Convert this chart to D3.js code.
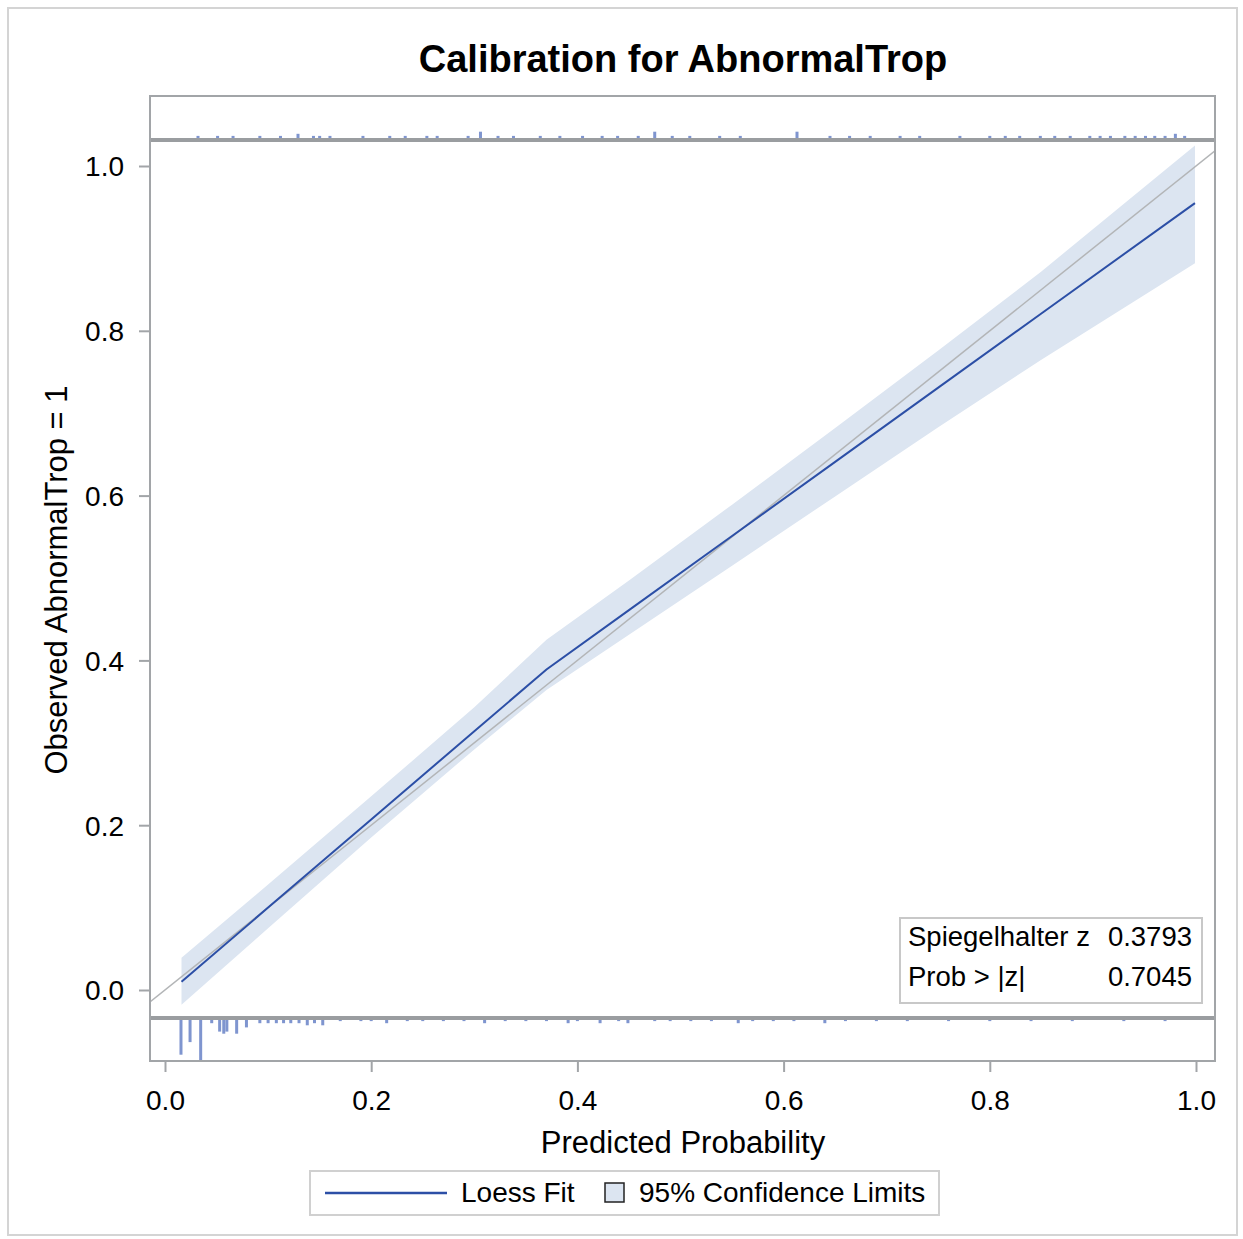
<!DOCTYPE html>
<html>
<head>
<meta charset="utf-8">
<script src="https://d3js.org/d3.v7.min.js"></script>
<style>
  body { margin: 0; background: #fff; }
  text { font-family: "Liberation Sans", Arial, sans-serif; fill: #000; }
</style>
</head>
<body>
<div id="chart"></div>
<script>
// loess fit and 95% limits
var predGrid = [0.016, 0.1, 0.2, 0.3, 0.37, 0.45, 0.55, 0.65, 0.75, 0.85, 0.999];
var fitObs   = [0.010, 0.100, 0.207, 0.314, 0.389, 0.461, 0.551, 0.641, 0.731, 0.821, 0.955];
var upperObs = [0.039, 0.128, 0.235, 0.343, 0.425, 0.497, 0.589, 0.682, 0.776, 0.872, 1.025];
var lowerObs = [-0.018, 0.075, 0.185, 0.292, 0.364, 0.431, 0.515, 0.599, 0.683, 0.765, 0.882];

// fringe (rug) counts: observed = 1 on top, observed = 0 below
var rug1Pred = [0.032, 0.051, 0.066, 0.092, 0.112, 0.129, 0.144, 0.150, 0.160, 0.192, 0.218, 0.233, 0.254, 0.264, 0.294, 0.306,
  0.323, 0.338, 0.364, 0.383, 0.405, 0.424, 0.439, 0.459, 0.475, 0.492, 0.509, 0.538, 0.558, 0.613, 0.645, 0.664, 0.684, 0.713,
  0.732, 0.771, 0.800, 0.815, 0.829, 0.849, 0.863, 0.878, 0.897, 0.907, 0.917, 0.931, 0.941, 0.951, 0.960, 0.970, 0.980, 0.989];
var rug1Count = [1, 1, 1, 1, 1, 2, 1, 1, 1, 1, 1, 1, 1, 1, 1, 3,
  1, 1, 1, 1, 1, 1, 1, 1, 3, 1, 1, 1, 1, 3, 1, 1, 1, 1,
  1, 1, 1, 1, 1, 1, 1, 1, 1, 1, 1, 1, 1, 1, 1, 1, 2, 1];
var rug0Pred = [0.0155, 0.0243, 0.0346, 0.0453, 0.053, 0.057, 0.060, 0.0695, 0.079, 0.092, 0.100, 0.108, 0.115, 0.122, 0.130,
  0.138, 0.145, 0.153, 0.17, 0.19, 0.20, 0.215, 0.235, 0.25, 0.27, 0.29, 0.31, 0.33, 0.35, 0.37, 0.391, 0.40, 0.422, 0.44,
  0.449, 0.475, 0.49, 0.51, 0.53, 0.556, 0.57, 0.59, 0.61, 0.64, 0.66, 0.69, 0.72, 0.76, 0.80, 0.84, 0.88, 0.93, 0.97];
var rug0Count = [17, 11, 20, 2, 6, 7, 6, 7, 4, 2, 2, 2, 2, 2, 2,
  3, 2, 3, 1, 1, 1, 2, 1, 1, 1, 1, 2, 1, 1, 1, 2, 1, 2, 1,
  2, 1, 1, 1, 1, 2, 1, 1, 1, 2, 1, 1, 1, 1, 1, 1, 1, 1, 1];

var ticks = [0, 0.2, 0.4, 0.6, 0.8, 1.0];
var stats = [["Spiegelhalter z", "0.3793"], ["Prob > |z|", "0.7045"]];

var W = 1243, H = 1239;
var frame = {left: 150, top: 96, right: 1215, bottom: 1061};
var rugTop = 140, rugBottom = 1018;
var fitColor = "#2c4fa6", bandColor = "#dce5f1", rugColor = "#7f95cf", frameColor = "#a2a5a8";

var svg = d3.select("#chart").append("svg")
  .attr("width", W).attr("height", H);

// outer border
svg.append("rect").attr("x", 8).attr("y", 8).attr("width", 1229).attr("height", 1227)
  .attr("fill", "#fff").attr("stroke", "#d4d4d4").attr("stroke-width", 2);

var x = d3.scaleLinear().domain([0, 1]).range([165, 1196]);
var y = d3.scaleLinear().domain([0, 1]).range([990, 166]);
var h = d3.scaleLinear().domain([0, 20]).range([0, 42]);

svg.append("clipPath").attr("id", "inner").append("rect")
  .attr("x", frame.left).attr("y", rugTop + 2)
  .attr("width", frame.right - frame.left).attr("height", rugBottom - rugTop - 4);

var fit = predGrid.map(function(p, i) { return {p: p, f: fitObs[i], u: upperObs[i], l: lowerObs[i]}; });

var plot = svg.append("g").attr("clip-path", "url(#inner)");

plot.append("path").datum(fit)
  .attr("d", d3.area().x(function(d) { return x(d.p); }).y0(function(d) { return y(d.l); }).y1(function(d) { return y(d.u); }))
  .attr("fill", bandColor);

// reference line
plot.append("line")
  .attr("x1", frame.left).attr("y1", y(x.invert(frame.left)))
  .attr("x2", frame.right).attr("y2", y(x.invert(frame.right)))
  .attr("stroke", "#b3b5b7").attr("stroke-width", 1.5);

plot.append("path").datum(fit)
  .attr("d", d3.line().x(function(d) { return x(d.p); }).y(function(d) { return y(d.f); }))
  .attr("fill", "none").attr("stroke", fitColor).attr("stroke-width", 2);

// rugs
svg.selectAll(".rug1").data(rug1Pred).enter().append("rect")
  .attr("x", function(d) { return x(d) - 1.5; })
  .attr("y", function(d, i) { return rugTop - 2 - h(rug1Count[i]); })
  .attr("width", 3)
  .attr("height", function(d, i) { return h(rug1Count[i]); })
  .attr("fill", rugColor);

svg.selectAll(".rug0").data(rug0Pred).enter().append("rect")
  .attr("x", function(d) { return x(d) - 1.5; })
  .attr("y", rugBottom + 1)
  .attr("width", 3)
  .attr("height", function(d, i) { return h(rug0Count[i]); })
  .attr("fill", rugColor);

svg.append("line").attr("x1", frame.left).attr("x2", frame.right).attr("y1", rugTop).attr("y2", rugTop)
  .attr("stroke", "#9a9da0").attr("stroke-width", 4);
svg.append("line").attr("x1", frame.left).attr("x2", frame.right).attr("y1", rugBottom).attr("y2", rugBottom)
  .attr("stroke", "#9a9da0").attr("stroke-width", 4);

svg.append("rect").attr("x", frame.left).attr("y", frame.top)
  .attr("width", frame.right - frame.left).attr("height", frame.bottom - frame.top)
  .attr("fill", "none").attr("stroke", frameColor).attr("stroke-width", 2);

// axes
var fmt = d3.format(".1f");
var yAxis = svg.append("g").attr("transform", "translate(" + frame.left + ",0)")
  .call(d3.axisLeft(y).tickValues(ticks).tickFormat(fmt).tickSize(11).tickPadding(15));
var xAxis = svg.append("g").attr("transform", "translate(0," + frame.bottom + ")")
  .call(d3.axisBottom(x).tickValues(ticks).tickFormat(fmt).tickSize(11).tickPadding(18));
[xAxis, yAxis].forEach(function(a) {
  a.select(".domain").remove();
  a.selectAll(".tick line").attr("stroke", frameColor).attr("stroke-width", 2);
  a.selectAll(".tick text").style("font-size", "28px").attr("fill", "#000");
});
yAxis.selectAll(".tick text").attr("dy", "0.35em");

svg.append("text").attr("x", 683).attr("y", 1153).attr("text-anchor", "middle")
  .style("font-size", "31px").text("Predicted Probability");
svg.append("text").attr("transform", "translate(67,580) rotate(-90)").attr("text-anchor", "middle")
  .style("font-size", "31px").text("Observed AbnormalTrop = 1");

svg.append("text").attr("x", 683).attr("y", 72).attr("text-anchor", "middle")
  .style("font-size", "38px").style("font-weight", "bold").text("Calibration for AbnormalTrop");

// stats inset
svg.append("rect").attr("x", 900).attr("y", 918).attr("width", 302).attr("height", 85)
  .attr("fill", "#fff").attr("stroke", "#c8c8c8").attr("stroke-width", 2);
stats.forEach(function(s, i) {
  svg.append("text").attr("x", 908).attr("y", 946 + i * 40).style("font-size", "27.5px").text(s[0]);
  svg.append("text").attr("x", 1192).attr("y", 946 + i * 40).attr("text-anchor", "end").style("font-size", "27.5px").text(s[1]);
});

// legend
svg.append("rect").attr("x", 310).attr("y", 1171).attr("width", 629).attr("height", 44)
  .attr("fill", "#fff").attr("stroke", "#d0d0d0").attr("stroke-width", 2);
svg.append("line").attr("x1", 325).attr("x2", 447).attr("y1", 1193).attr("y2", 1193)
  .attr("stroke", fitColor).attr("stroke-width", 2.5);
svg.append("text").attr("x", 461).attr("y", 1202).style("font-size", "28px").text("Loess Fit");
svg.append("rect").attr("x", 605).attr("y", 1183).attr("width", 19).attr("height", 19)
  .attr("fill", bandColor).attr("stroke", "#222").attr("stroke-width", 1.5);
svg.append("text").attr("x", 639).attr("y", 1202).style("font-size", "28px").text("95% Confidence Limits");
</script>
</body>
</html>
